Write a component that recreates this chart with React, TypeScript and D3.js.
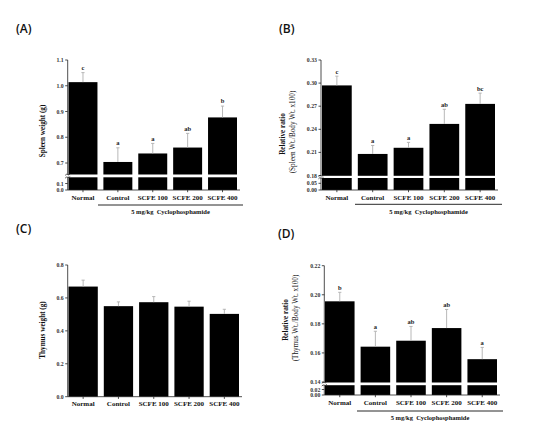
import React from 'react';
import * as d3 from 'd3';

const categories = ['Normal', 'Control', 'SCFE 100', 'SCFE 200', 'SCFE 400'];

const spleenWeight = [1.014, 0.704, 0.737, 0.76, 0.877];
const spleenWeightErr = [0.037, 0.055, 0.039, 0.055, 0.044];
const spleenWeightLetters = ['c', 'a', 'a', 'ab', 'b'];
const spleenWeightTicksUpper = [0.7, 0.8, 0.9, 1.0, 1.1];
const spleenWeightTicksLower = [0.0, 0.1];

const spleenRatio = [0.297, 0.208, 0.216, 0.247, 0.273];
const spleenRatioErr = [0.012, 0.011, 0.007, 0.019, 0.014];
const spleenRatioLetters = ['c', 'a', 'a', 'ab', 'bc'];
const spleenRatioTicksUpper = [0.18, 0.21, 0.24, 0.27, 0.3, 0.33];
const spleenRatioTicksLower = [0.0, 0.05];

const thymusWeight = [0.669, 0.55, 0.574, 0.547, 0.503];
const thymusWeightErr = [0.039, 0.026, 0.034, 0.033, 0.028];
const thymusWeightTicks = [0.0, 0.2, 0.4, 0.6, 0.8];

const thymusRatio = [0.1955, 0.1643, 0.1684, 0.1771, 0.1557];
const thymusRatioErr = [0.0062, 0.0106, 0.0098, 0.0128, 0.0081];
const thymusRatioLetters = ['b', 'a', 'ab', 'ab', 'a'];
const thymusRatioTicksUpper = [0.14, 0.16, 0.18, 0.2, 0.22];
const thymusRatioTicksLower = [0.0, 0.02];

const groupLabel = '5 mg/kg  Cyclophosphamide';

const SERIF = "'Liberation Serif', 'DejaVu Serif', serif";
const SANS = "'Open Sans', 'Liberation Sans', Arial, sans-serif";

type PanelProps = {
  tag: string;
  tagX: number;
  tagY: number;
  values: number[];
  errs: number[];
  letters?: string[];
  axisX: number;
  barRange: [number, number];
  upperDomain: [number, number];
  upperRange: [number, number];
  upperTicks: number[];
  tickFmt: (v: number) => string;
  lowerDomain?: [number, number];
  lowerRange?: [number, number];
  lowerTicks?: number[];
  gap?: [number, number];
  bottom: number;
  yLabel: string;
  yLabel2?: string;
  yLabelX: number;
  yLabel2X?: number;
  yLabelY: number;
  yLabel2Y?: number;
  group?: { x1: number; x2: number; y: number; textY: number };
};

function Panel(p: PanelProps) {
  const x = d3
    .scaleBand<string>()
    .domain(categories)
    .range(p.barRange)
    .paddingInner(0.17)
    .paddingOuter(0);
  const upper = d3.scaleLinear().domain(p.upperDomain).range(p.upperRange);
  const lower =
    p.lowerDomain && p.lowerRange
      ? d3.scaleLinear().domain(p.lowerDomain).range(p.lowerRange)
      : null;
  const top = upper(p.upperTicks[p.upperTicks.length - 1]);
  const right = p.barRange[1];
  const bw = x.bandwidth();
  const errColor = '#b0b0b0';
  return (
    <g>
      <text x={p.tagX} y={p.tagY} fontFamily={SANS} fontWeight={600} fontSize={12} fill="#111">
        {p.tag}
      </text>
      {categories.map((c, i) => {
        const y = upper(p.values[i]);
        return (
          <rect key={'b' + c} x={x(c)} y={y} width={bw} height={p.bottom - y} fill="#000" />
        );
      })}
      {categories.map((c, i) => {
        const cx = (x(c) as number) + bw / 2;
        const y0 = upper(p.values[i]);
        const y1 = upper(p.values[i] + p.errs[i]);
        return (
          <g key={'e' + c} stroke={errColor} strokeWidth={0.9}>
            <line x1={cx} x2={cx} y1={y0} y2={y1} />
            <line x1={cx - 1.6} x2={cx + 1.6} y1={y1} y2={y1} />
          </g>
        );
      })}
      {p.letters &&
        categories.map((c, i) => {
          const cx = (x(c) as number) + bw / 2;
          const y1 = upper(p.values[i] + p.errs[i]);
          return (
            <text
              key={'l' + c}
              x={cx}
              y={y1 - 2.6}
              textAnchor="middle"
              fontFamily={SERIF}
              fontWeight="bold"
              fontSize={6.5}
              fill="#222"
            >
              {p.letters![i]}
            </text>
          );
        })}
      {p.gap && (
        <rect
          x={p.axisX + 0.6}
          y={p.gap[0]}
          width={right - p.axisX + 2}
          height={p.gap[1] - p.gap[0]}
          fill="#fff"
        />
      )}
      <g stroke="#222" strokeWidth={0.8} fill="none">
        <line x1={p.axisX} x2={p.axisX} y1={top} y2={p.gap ? p.gap[0] : p.bottom} />
        {p.gap && <line x1={p.axisX} x2={p.axisX} y1={p.gap[1]} y2={p.bottom} />}
        {p.gap && (
          <>
            <path
              d={`M${p.axisX - 2.5},${p.gap[0] + 0.8} q1.2,-1.6 2.5,-0.8 t2.5,-0.8`}
            />
            <path
              d={`M${p.axisX - 2.5},${p.gap[1] + 0.8} q1.2,-1.6 2.5,-0.8 t2.5,-0.8`}
            />
          </>
        )}
        {p.upperTicks.map((t) => (
          <line key={'ut' + t} x1={p.axisX - 2.5} x2={p.axisX} y1={upper(t)} y2={upper(t)} />
        ))}
        {lower &&
          p.lowerTicks!.map((t) => (
            <line key={'lt' + t} x1={p.axisX - 2.5} x2={p.axisX} y1={lower(t)} y2={lower(t)} />
          ))}
        <line x1={p.axisX} x2={right + 3} y1={p.bottom} y2={p.bottom} />
        {categories.map((c) => {
          const cx = (x(c) as number) + bw / 2;
          return <line key={'xt' + c} x1={cx} x2={cx} y1={p.bottom} y2={p.bottom + 2.2} />;
        })}
      </g>
      <g fontFamily={SERIF} fontWeight="bold" fontSize={5.8} fill="#333" textAnchor="end">
        {p.upperTicks.map((t) => (
          <text key={'utl' + t} x={p.axisX - 4} y={upper(t)} dy="0.35em">
            {p.tickFmt(t)}
          </text>
        ))}
        {lower &&
          p.lowerTicks!.map((t) => (
            <text key={'ltl' + t} x={p.axisX - 4} y={lower(t)} dy="0.35em">
              {p.tickFmt(t)}
            </text>
          ))}
      </g>
      <g fontFamily={SERIF} fontWeight="bold" fontSize={7} fill="#111" textAnchor="middle">
        {categories.map((c) => (
          <text key={'cl' + c} x={(x(c) as number) + bw / 2} y={p.bottom + 9.5}>
            {c}
          </text>
        ))}
      </g>
      {p.group && (
        <g>
          <line
            x1={p.group.x1}
            x2={p.group.x2}
            y1={p.group.y}
            y2={p.group.y}
            stroke="#111"
            strokeWidth={0.9}
          />
          <text
            x={(p.group.x1 + p.group.x2) / 2}
            y={p.group.textY}
            textAnchor="middle"
            fontFamily={SERIF}
            fontWeight="bold"
            fontSize={6.5}
            fill="#111"
            style={{ whiteSpace: 'pre' }}
          >
            {groupLabel}
          </text>
        </g>
      )}
      <text
        transform={`translate(${p.yLabelX},${p.yLabelY}) rotate(-90)`}
        textAnchor="middle"
        fontFamily={SERIF}
        fontWeight="bold"
        fontSize={7.2}
        fill="#111"
      >
        {p.yLabel}
      </text>
      {p.yLabel2 && (
        <text
          transform={`translate(${p.yLabel2X},${p.yLabel2Y}) rotate(-90)`}
          textAnchor="middle"
          fontFamily={SERIF}
          fontSize={7.2}
          fill="#111"
        >
          {p.yLabel2}
        </text>
      )}
    </g>
  );
}

const f1 = (v: number) => v.toFixed(1);
const f2 = (v: number) => v.toFixed(2);

export default function App() {
  return (
    <svg
      width={542}
      height={427}
      style={{ position: 'absolute', left: 0, top: 0, background: '#fff' }}
    >
      <rect width={542} height={427} fill="#fff" />
      <Panel
        tag="(A)"
        tagX={16}
        tagY={33}
        values={spleenWeight}
        errs={spleenWeightErr}
        letters={spleenWeightLetters}
        axisX={67.7}
        barRange={[68.5, 237]}
        upperDomain={[0.7, 1.1]}
        upperRange={[163, 60]}
        upperTicks={spleenWeightTicksUpper}
        tickFmt={f1}
        lowerDomain={[0, 0.1]}
        lowerRange={[190, 183.5]}
        lowerTicks={spleenWeightTicksLower}
        gap={[174.5, 177.3]}
        bottom={190}
        yLabel="Spleen weight (g)"
        yLabelX={45}
        yLabelY={131}
        group={{ x1: 98, x2: 243, y: 205, textY: 214 }}
      />
      <Panel
        tag="(B)"
        tagX={279}
        tagY={33}
        values={spleenRatio}
        errs={spleenRatioErr}
        letters={spleenRatioLetters}
        axisX={321}
        barRange={[322, 495]}
        upperDomain={[0.18, 0.33]}
        upperRange={[175.5, 60]}
        upperTicks={spleenRatioTicksUpper}
        tickFmt={f2}
        lowerDomain={[0, 0.05]}
        lowerRange={[190, 183.3]}
        lowerTicks={spleenRatioTicksLower}
        gap={[175.8, 178]}
        bottom={190}
        yLabel="Relative ratio"
        yLabel2="(Spleen Wt./Body Wt. x100)"
        yLabelX={285}
        yLabel2X={295}
        yLabelY={134}
        yLabel2Y={132}
        group={{ x1: 355, x2: 502, y: 204.3, textY: 214 }}
      />
      <Panel
        tag="(C)"
        tagX={16}
        tagY={233}
        values={thymusWeight}
        errs={thymusWeightErr}
        axisX={67.7}
        barRange={[68.5, 239]}
        upperDomain={[0, 0.8]}
        upperRange={[396.7, 265]}
        upperTicks={thymusWeightTicks}
        tickFmt={f1}
        bottom={396.7}
        yLabel="Thymus weight (g)"
        yLabelX={45}
        yLabelY={330}
      />
      <Panel
        tag="(D)"
        tagX={278}
        tagY={238}
        values={thymusRatio}
        errs={thymusRatioErr}
        letters={thymusRatioLetters}
        axisX={324.3}
        barRange={[325, 497]}
        upperDomain={[0.14, 0.22]}
        upperRange={[382, 265.7]}
        upperTicks={thymusRatioTicksUpper}
        tickFmt={f2}
        lowerDomain={[0, 0.02]}
        lowerRange={[395, 389.5]}
        lowerTicks={thymusRatioTicksLower}
        gap={[382.5, 385.2]}
        bottom={395}
        yLabel="Relative ratio"
        yLabel2="(Thymus Wt./Body Wt. x100)"
        yLabelX={288}
        yLabel2X={298}
        yLabelY={320}
        yLabel2Y={318}
        group={{ x1: 357, x2: 503, y: 411, textY: 420 }}
      />
    </svg>
  );
}
